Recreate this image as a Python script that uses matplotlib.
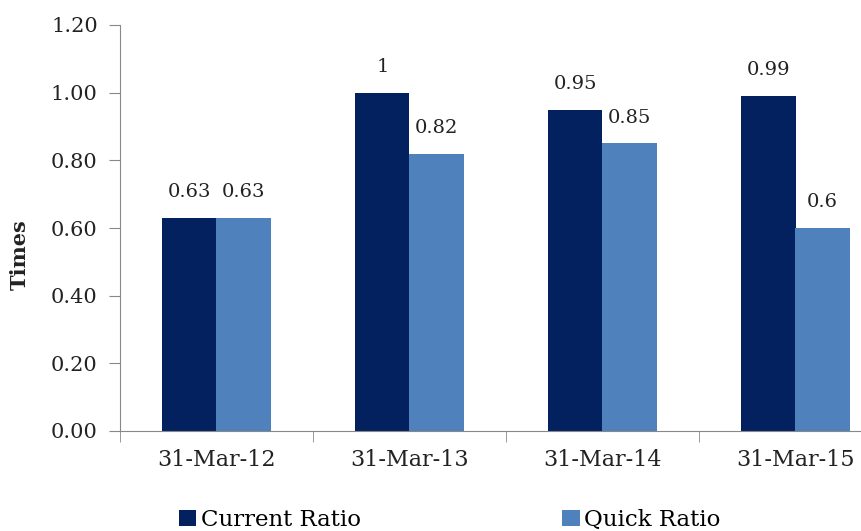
import matplotlib.pyplot as plt
import numpy as np

plt.rcParams['font.family'] = ['DejaVu Serif']

dates = ['31-Mar-12', '31-Mar-13', '31-Mar-14', '31-Mar-15']
current_ratio = [0.63, 1.00, 0.95, 0.99]
quick_ratio = [0.63, 0.82, 0.85, 0.60]
current_labels = ['0.63', '1', '0.95', '0.99']
quick_labels = ['0.63', '0.82', '0.85', '0.6']

dark = '#03215E'
light = '#4F81BD'

fig = plt.figure(figsize=(8.62, 5.31), dpi=100)
ax = fig.add_axes([120/862, (531-431)/531, 772/862, 406/531])

x = np.arange(len(dates))
w = 0.28
b1 = ax.bar(x - w/2, current_ratio, w, color=dark, label='Current Ratio')
b2 = ax.bar(x + w/2, quick_ratio, w, color=light, label='Quick Ratio')

# value labels above each bar
for bars, labels in ((b1, current_labels), (b2, quick_labels)):
    for r, t in zip(bars, labels):
        ax.annotate(t, xy=(r.get_x() + r.get_width()/2, r.get_height()),
                    xytext=(0, 12), textcoords='offset points',
                    ha='center', va='bottom', fontsize=14, color='#222222')

ax.set_xlim(-0.5, 3.5)
ax.set_ylim(0, 1.2)
ax.set_yticks(np.arange(0, 1.21, 0.2))
ax.set_yticklabels(['%.2f' % v for v in np.arange(0, 1.21, 0.2)])
ax.set_xticks(x)
ax.set_xticklabels(dates)
ax.set_xticks(np.arange(0, 5) - 0.5, minor=True)

ax.spines['right'].set_visible(False)
ax.spines['top'].set_visible(False)
ax.spines['left'].set_color('#888888')
ax.spines['bottom'].set_color('#888888')
ax.tick_params(axis='x', which='major', length=0, pad=13, labelsize=16, labelcolor='#222222')
ax.tick_params(axis='x', which='minor', length=8, color='#888888', direction='out')
ax.tick_params(axis='y', length=8, color='#888888', pad=8, labelsize=15, labelcolor='#222222')

fig.text(20/862, 1 - 255/531, 'Times', rotation=90, fontsize=15, fontweight='bold',
         ha='center', va='center', color='#222222')

fig.legend(handles=[b1, b2], loc='center left', bbox_to_anchor=(179/862, 1 - 520/531), ncol=2,
           frameon=False, fontsize=16.5, handlelength=0.75, handleheight=0.75,
           handletextpad=0.2, columnspacing=8.8, borderpad=0, borderaxespad=0)

fig.savefig('out.png', dpi=100)
